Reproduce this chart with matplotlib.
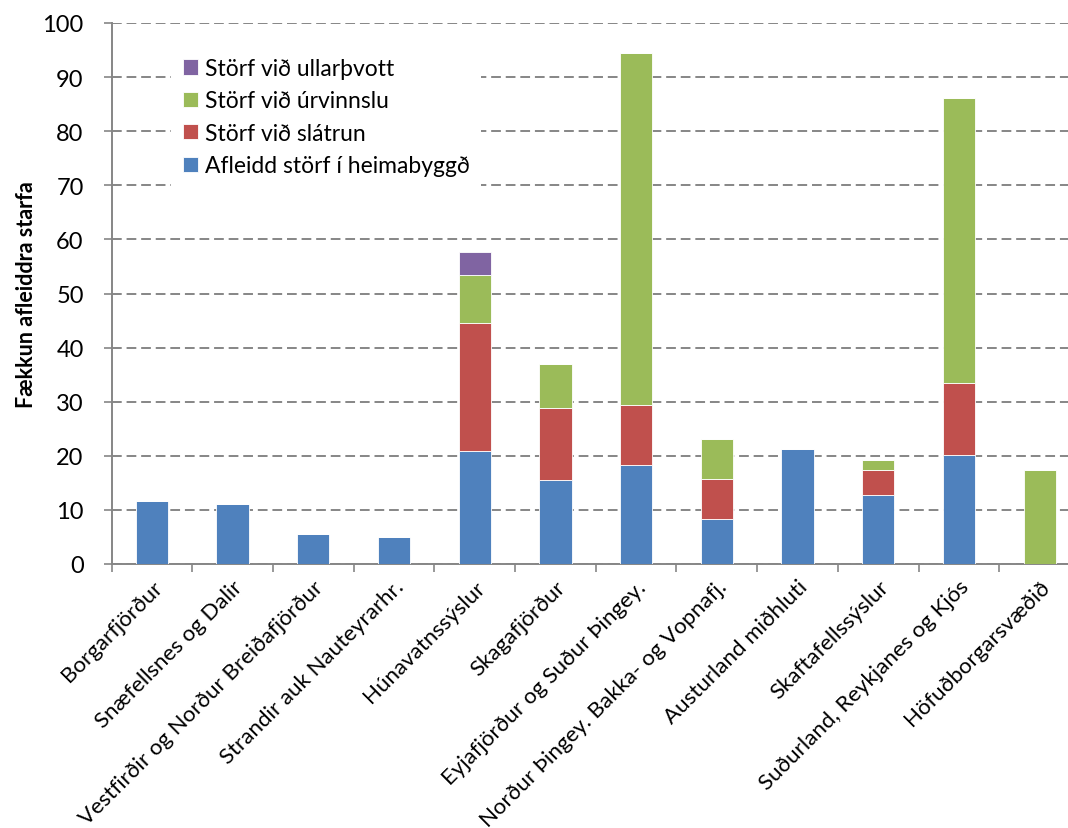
import matplotlib.pyplot as plt
import numpy as np

plt.rcParams['font.family'] = ['Lato', 'DejaVu Sans']

regions = ['Borgarfjörður', 'Snæfellsnes og Dalir', 'Vestfirðir og Norður Breiðafjörður',
           'Strandir auk Nauteyrarhr.', 'Húnavatnssýslur', 'Skagafjörður',
           'Eyjafjörður og Suður Þingey.', 'Norður Þingey. Bakka- og Vopnafj.',
           'Austurland miðhluti', 'Skaftafellssýslur', 'Suðurland, Reykjanes og Kjós',
           'Höfuðborgarsvæðið']

afleidd = [11.7, 11.0, 5.5, 5.0, 20.9, 15.5, 18.3, 8.3, 21.2, 12.8, 20.1, 0.0]
slatrun = [0.0, 0.0, 0.0, 0.0, 23.6, 13.4, 11.0, 7.4, 0.0, 4.5, 13.4, 0.0]
urvinnsla = [0.0, 0.0, 0.0, 0.0, 9.0, 8.1, 65.1, 7.4, 0.0, 2.0, 52.6, 17.4]
ullarthvott = [0.0, 0.0, 0.0, 0.0, 4.1, 0.0, 0.0, 0.0, 0.0, 0.0, 0.0, 0.0]

series = [
    ('Afleidd störf í heimabyggð', afleidd, '#4F81BD'),
    ('Störf við slátrun', slatrun, '#C0504D'),
    ('Störf við úrvinnslu', urvinnsla, '#9BBB59'),
    ('Störf við ullarþvott', ullarthvott, '#8064A2'),
]

fig = plt.figure(figsize=(10.68, 8.29), dpi=100)
ax = fig.add_axes([111.5 / 1068, 1 - 565 / 829, (1080 - 111.5) / 1068, (565 - 24) / 829])

x = np.arange(len(regions))
bottom = np.zeros(len(regions))
handles = []
for name, vals, col in series:
    vals = np.array(vals)
    b = ax.bar(x, vals, 0.4, bottom=bottom, color=col, edgecolor='white',
               linewidth=0.6, label=name, zorder=3)
    handles.append(b)
    bottom += vals

ax.set_xlim(-0.5, len(regions) - 0.5)
ax.set_ylim(0, 100)
ax.set_yticks(range(0, 101, 10))
ax.yaxis.grid(True, color='#868686', linestyle=(0, (5, 2.5)), linewidth=1.4, zorder=0)
ax.set_axisbelow(True)

ax.set_xticks(x)
ax.set_xticklabels(regions, rotation=45, ha='right', rotation_mode='anchor', fontsize=16)
ax.set_xticks(np.arange(-0.5, len(regions), 1), minor=True)
ax.tick_params(axis='x', which='major', length=0, pad=9)
ax.tick_params(axis='x', which='minor', length=6, width=1.2, color='#868686')
ax.tick_params(axis='y', length=6, width=1.2, color='#868686', pad=14, labelsize=17)

for s in ['top', 'right']:
    ax.spines[s].set_visible(False)
for s in ['left', 'bottom']:
    ax.spines[s].set_color('#868686')
    ax.spines[s].set_linewidth(1.4)

ax.set_ylabel('Fækkun afleiddra starfa', fontsize=15.5, fontweight='bold', labelpad=4)

leg = ax.legend(handles[::-1], [s[0] for s in series][::-1],
                loc='upper left', bbox_to_anchor=(160 / 1068, 1 - 36 / 829),
                bbox_transform=fig.transFigure, fontsize=16.5, frameon=True,
                fancybox=False, edgecolor='none', facecolor='white', framealpha=1,
                handlelength=0.65, handleheight=0.65, handletextpad=0.3,
                labelspacing=0.5, borderpad=0.5)
leg.set_zorder(5)

fig.savefig('out.png', dpi=100)
